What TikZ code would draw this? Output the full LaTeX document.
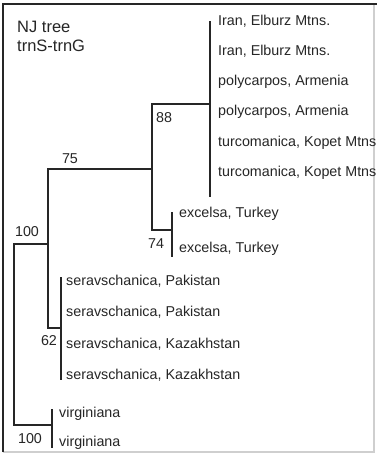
\documentclass[tikz,border=0pt]{standalone}
\usepackage{fontspec}
\setmainfont{Liberation Sans}
\definecolor{ink}{HTML}{262626}
\definecolor{rimlight}{HTML}{CFCFCF}
\tikzset{
  branch/.style={line width=1.5pt, color=ink, line cap=rect},
  taxon/.style={anchor=base west, inner sep=0pt, text=ink, font=\fontsize{14.3}{17}\selectfont},
  heading/.style={anchor=base west, inner sep=0pt, text=ink, font=\fontsize{16.5}{19}\selectfont},
  boot/.style={anchor=base, inner sep=0pt, text=ink, font=\fontsize{14.3}{17}\selectfont},
}
\begin{document}
\begin{tikzpicture}[x=1pt, y=-1pt]
			%%%%% START %%%%%
			\useasboundingbox (0,0) rectangle (377,454);
			\fill[white] (0,0) rectangle (377,454);
			
			% frame
			\draw[line width=1.2pt, color=rimlight] (374,4) -- (374,452) -- (3,452);
			\draw[line width=1.5pt, color=ink] (3,452) -- (3,4) -- (377,4);
			
			% title
			\node[heading] (title1) at (17,33) {NJ tree};
			\node[heading] (title2) at (17,52) {trnS-trnG};
			
			% internal nodes
			\coordinate (root) at (14,244);
			\coordinate (rootb) at (14,425);
			\coordinate (n75) at (48,244);
			\coordinate (n75t) at (48,169);
			\coordinate (n75b) at (48,328);
			\coordinate (n88) at (152,169);
			\coordinate (n88t) at (152,104);
			\coordinate (n88b) at (152,230);
			\coordinate (nIran) at (210,104);
			\coordinate (nIrant) at (210,22);
			\coordinate (nIranb) at (210,196);
			\coordinate (nExc) at (172,230);
			\coordinate (nExct) at (172,213);
			\coordinate (nExcb) at (172,256);
			\coordinate (nSer) at (61,328);
			\coordinate (nSert) at (61,278);
			\coordinate (nSerb) at (61,379);
			\coordinate (nVir) at (52,425);
			\coordinate (nVirt) at (52,410);
			\coordinate (nVirb) at (52,447);
			
			% branches
			\draw[branch] (root) -- (rootb);
			\draw[branch] (root) -- (n75);
			\draw[branch] (rootb) -- (nVir);
			\draw[branch] (n75t) -- (n75b);
			\draw[branch] (n75t) -- (n88);
			\draw[branch] (n75b) -- (nSer);
			\draw[branch] (n88t) -- (n88b);
			\draw[branch] (n88t) -- (nIran);
			\draw[branch] (n88b) -- (nExc);
			\draw[branch] (nIrant) -- (nIranb);
			\draw[branch] (nExct) -- (nExcb);
			\draw[branch] (nSert) -- (nSerb);
			\draw[branch] (nVirt) -- (nVirb);
			
			% taxa
			\node[taxon] (iran1) at (218,26) {Iran, Elburz Mtns.};
			\node[taxon] (iran2) at (218,56) {Iran, Elburz Mtns.};
			\node[taxon] (poly1) at (218,86) {polycarpos, Armenia};
			\node[taxon] (poly2) at (218,116) {polycarpos, Armenia};
			\node[taxon] (turc1) at (218,147) {turcomanica, Kopet Mtns};
			\node[taxon] (turc2) at (218,177) {turcomanica, Kopet Mtns};
			\node[taxon] (exc1) at (179,217) {excelsa, Turkey};
			\node[taxon] (exc2) at (179,252) {excelsa, Turkey};
			\node[taxon] (ser1) at (66,285) {seravschanica, Pakistan};
			\node[taxon] (ser2) at (66,316) {seravschanica, Pakistan};
			\node[taxon] (ser3) at (66,348) {seravschanica, Kazakhstan};
			\node[taxon] (ser4) at (66,379) {seravschanica, Kazakhstan};
			\node[taxon] (vir1) at (59,417) {virginiana};
			\node[taxon] (vir2) at (59,446) {virginiana};
			
			% bootstrap values
			\node[boot] (b88) at (164,123) {88};
			\node[boot] (b75) at (70,164) {75};
			\node[boot] (b100a) at (27,236) {100};
			\node[boot] (b74) at (156,248) {74};
			\node[boot] (b62) at (49,345) {62};
			\node[boot] (b100b) at (30,443) {100};
			%%%%% END %%%%%
\end{tikzpicture}
\end{document}
